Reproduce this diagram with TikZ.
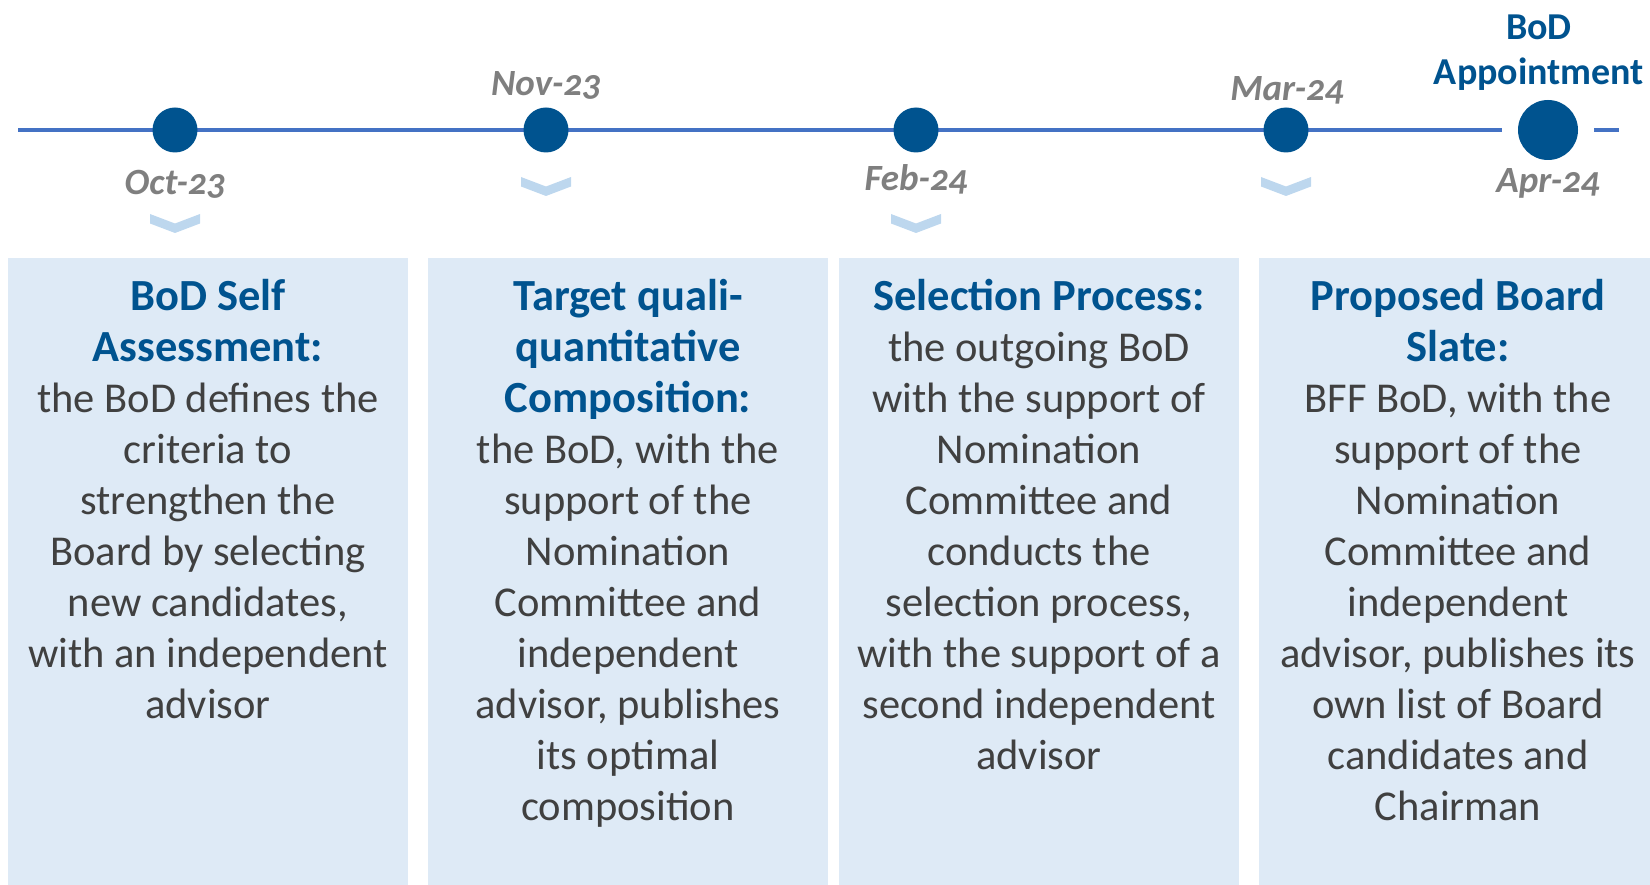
\documentclass[tikz,border=0pt]{standalone}
\usepackage{fontspec}
\setmainfont{Carlito}[Numbers=OldStyle]

\definecolor{lineblue}{HTML}{4472C4}
\definecolor{dotblue}{HTML}{00538F}
\definecolor{titleblue}{HTML}{00538F}
\definecolor{dategray}{HTML}{7F7F7F}
\definecolor{chevblue}{HTML}{BDD7EE}
\definecolor{panelfill}{HTML}{DEEAF6}
\definecolor{bodygray}{HTML}{404040}

% heading lines inside a stage panel
\newcommand{\hd}{\color{titleblue}\bfseries\fontsize{44.5}{51}\selectfont}

\begin{document}
\begin{tikzpicture}[x=1pt,y=-1pt,
  timeline/.style={draw=lineblue, line width=3.2pt},
  dot/.style={circle, fill=dotblue, minimum size=45pt, inner sep=0pt},
  bigdot/.style={circle, fill=dotblue, minimum size=60pt, inner sep=0pt},
  datelabel/.style={font=\bfseries\itshape\fontsize{37}{44}\selectfont, text=dategray, inner sep=0pt, anchor=base},
  panel/.style={fill=panelfill, draw=none, anchor=north west, inner sep=0pt},
  paneltext/.style={font=\fontsize{42.5}{51}\selectfont, text=bodygray, inner sep=0pt, anchor=base},
  chevron/.pic={\fill[chevblue] (-25,0) -- (0,9.5) -- (25,0) -- (25,9.5) -- (0,19) -- (-25,9.5) -- cycle;}
]
\useasboundingbox (0,0) rectangle (1650,885);

% timeline axis
\coordinate (tlstart) at (18,130);
\coordinate (tlend) at (1619,130);
\draw[timeline] (tlstart) -- (tlend);

% milestone dots
\node[dot] (m1) at (175,130) {};
\node[dot] (m2) at (546,130) {};
\node[dot] (m3) at (916,130) {};
\node[dot] (m4) at (1286,130) {};
\coordinate (apr) at (1548,130);
\fill[white] (apr) circle[radius=46];
\node[bigdot] (m5) at (apr) {};

% dates
\node[datelabel] (d1) at (175,194.5) {Oct-23};
\node[datelabel] (d2) at (546,96) {Nov-23};
\node[datelabel] (d3) at (916,190.5) {Feb-24};
\node[datelabel] (d4) at (1287,100.5) {Mar-24};
\node[datelabel] (d5) at (1548,192.5) {Apr-24};

% final milestone caption
\node[inner sep=0pt, anchor=base, text=titleblue, font=\bfseries\fontsize{38}{45}\selectfont] (appt) at (1539,40)
  {\begin{tabular}[t]{@{}c@{}}BoD\\Appointment\end{tabular}};

% chevrons pointing to the panels
\pic at (175,214) {chevron};
\pic at (546,177) {chevron};
\pic at (916,214) {chevron};
\pic at (1286,177) {chevron};

% stage panels
\node[panel, minimum width=400pt, minimum height=627pt] (p1) at (8,258) {};
\node[panel, minimum width=400pt, minimum height=627pt] (p2) at (428,258) {};
\node[panel, minimum width=400pt, minimum height=627pt] (p3) at (839,258) {};
\node[panel, minimum width=391pt, minimum height=627pt] (p4) at (1259,258) {};

\node[paneltext] (t1) at (208,310.5) {\begin{tabular}[t]{@{}c@{}}
\hd BoD Self\\
\hd Assessment:\\
the BoD defines the\\
criteria to\\
strengthen the\\
Board by selecting\\
new candidates,\\
with an independent\\
advisor
\end{tabular}};

\node[paneltext] (t2) at (628,310.5) {\begin{tabular}[t]{@{}c@{}}
\hd Target quali-\\
\hd quantitative\\
\hd Composition:\\
the BoD, with the\\
support of the\\
Nomination\\
Committee and\\
independent\\
advisor, publishes\\
its optimal\\
composition
\end{tabular}};

\node[paneltext] (t3) at (1039,310.5) {\begin{tabular}[t]{@{}c@{}}
\hd Selection Process:\\
the outgoing BoD\\
with the support of\\
Nomination\\
Committee and\\
conducts the\\
selection process,\\
with the support of a\\
second independent\\
advisor
\end{tabular}};

\node[paneltext] (t4) at (1458,310.5) {\begin{tabular}[t]{@{}c@{}}
\hd Proposed Board\\
\hd Slate:\\
BFF BoD, with the\\
support of the\\
Nomination\\
Committee and\\
independent\\
advisor, publishes its\\
own list of Board\\
candidates and\\
Chairman
\end{tabular}};

\end{tikzpicture}
\end{document}
